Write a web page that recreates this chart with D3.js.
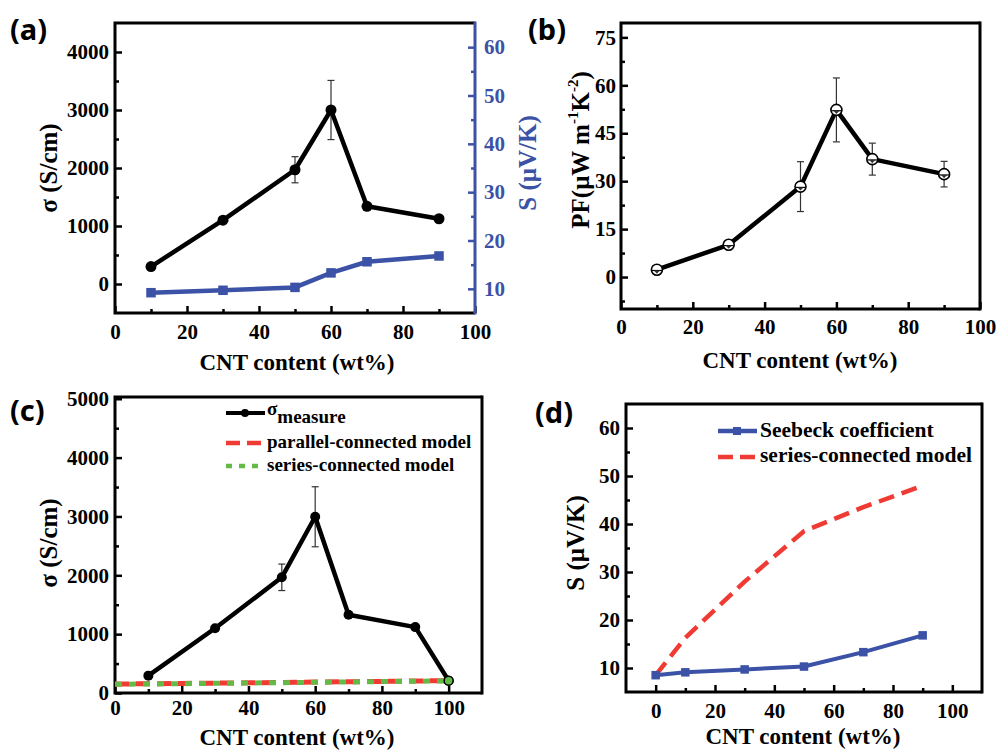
<!DOCTYPE html>
<html>
<head>
<meta charset="utf-8">
<script src="https://cdn.jsdelivr.net/npm/d3@7"></script>
<style>
body { margin: 0; background: #fff; }
</style>
</head>
<body>
<svg id="chart" width="996" height="750"></svg>
<script>
// (a) conductivity + Seebeck vs CNT content
const cntA = [10, 30, 50, 60, 70, 90];
const sigmaA = [300, 1100, 1970, 3000, 1340, 1125];
const sigmaErrA = [0, 0, 225, 510, 0, 0];
const seebeckA = [9.2, 9.7, 10.3, 13.3, 15.6, 16.8];

// (b) power factor
const cntB = [10, 30, 50, 60, 70, 90];
const pfB = [2.3, 10.1, 28.3, 52.3, 36.9, 32.2];
const pfErrB = [0.4, 0.6, 7.8, 10.0, 5.0, 4.0];

// (c) measured conductivity vs models
const cntC = [10, 30, 50, 60, 70, 90, 100];
const sigmaC = [295, 1100, 1966, 2995, 1330, 1120, 210];
const sigmaErrC = [0, 0, 225, 510, 0, 0, 0];
const modelX = [0, 20, 40, 60, 80, 100];
const parallelC = [152, 162, 173, 185, 197, 210];
const seriesC = [148, 158, 170, 182, 194, 206];

// (d) Seebeck vs series model
const cntD = [0, 10, 30, 50, 70, 90];
const seebeckD = [8.5, 9.1, 9.7, 10.3, 13.3, 16.8];
const seriesD = [8.5, 16.3, 28.0, 38.5, 43.5, 48.0];

// tick values
const xMajor = [0, 20, 40, 60, 80, 100];
const xMinor = [10, 30, 50, 70, 90];
const sigmaMajorA = [0, 1000, 2000, 3000, 4000];
const sigmaMinorA = [500, 1500, 2500, 3500];
const sMajor = [10, 20, 30, 40, 50, 60];
const sMinor = [15, 25, 35, 45, 55];
const pfMajor = [0, 15, 30, 45, 60, 75];
const pfMinor = [-7.5, 7.5, 22.5, 37.5, 52.5, 67.5];
const sigmaMajorC = [0, 1000, 2000, 3000, 4000, 5000];
const sigmaMinorC = [500, 1500, 2500, 3500, 4500];

const blue = "#3b52a6", red = "#ef3b33", green = "#62bb47";
const serif = "'Liberation Serif', 'Times New Roman', 'DejaVu Serif', serif";
const sans = "'Noto Sans', 'Open Sans', 'DejaVu Sans', sans-serif";

const svg = d3.select("#chart");

function addAxis(axisFn, scale, pos, major, minor, color, pad) {
    let g = svg.append("g").attr("transform", pos);
    g.call(axisFn(scale).tickValues(major).tickSize(-7).tickPadding(pad).tickFormat(d3.format("d")));
    g.select(".domain").remove();
    g.attr("font-size", 21).attr("font-family", serif).attr("font-weight", "bold");
    g.selectAll("line").attr("stroke", color).attr("stroke-width", 2.5);
    g.selectAll("text").attr("fill", color);
    let m = svg.append("g").attr("transform", pos);
    m.call(axisFn(scale).tickValues(minor).tickSize(-4).tickFormat(""));
    m.select(".domain").remove();
    m.selectAll("line").attr("stroke", color).attr("stroke-width", 2.5);
}

function frame(x, y, rightColor) {
    let [l, r] = x.range(), [b, t] = y.range();
    let f = svg.append("g").attr("stroke-width", 3).attr("fill", "none");
    f.append("path").attr("stroke", "#000")
        .attr("d", `M${r},${t}H${l}V${b}H${r}`);
    f.append("line").attr("stroke", rightColor || "#000")
        .attr("x1", r).attr("x2", r).attr("y1", t - 1.5).attr("y2", b + 1.5);
}

function errBars(x, y, xs, ys, errs) {
    let g = svg.append("g").attr("stroke", "#333").attr("stroke-width", 1.2);
    xs.forEach((d, i) => {
        if (!errs[i]) return;
        let cx = x(d), y1 = y(ys[i] - errs[i]), y2 = y(ys[i] + errs[i]);
        g.append("line").attr("x1", cx).attr("x2", cx).attr("y1", y1).attr("y2", y2);
        g.append("line").attr("x1", cx - 3.5).attr("x2", cx + 3.5).attr("y1", y1).attr("y2", y1);
        g.append("line").attr("x1", cx - 3.5).attr("x2", cx + 3.5).attr("y1", y2).attr("y2", y2);
    });
}

function polyline(x, y, xs, ys, color, width, dash) {
    let line = d3.line().x(d => x(d[0])).y(d => y(d[1]));
    let p = svg.append("path")
        .datum(xs.map((d, i) => [d, ys[i]]))
        .attr("fill", "none")
        .attr("stroke", color)
        .attr("stroke-width", width)
        .attr("stroke-linejoin", "round")
        .attr("d", line);
    if (dash) p.attr("stroke-dasharray", dash);
    return p;
}

function circles(x, y, xs, ys, r, fill) {
    svg.append("g").selectAll("circle").data(xs).join("circle")
        .attr("cx", d => x(d)).attr("cy", (d, i) => y(ys[i]))
        .attr("r", r).attr("fill", fill || "#000");
}

function squares(x, y, xs, ys, s, color) {
    svg.append("g").selectAll("rect").data(xs).join("rect")
        .attr("x", d => x(d) - s / 2).attr("y", (d, i) => y(ys[i]) - s / 2)
        .attr("width", s).attr("height", s).attr("fill", color);
}

function text(str, x, y, opts = {}) {
    let t = svg.append("text")
        .attr("font-size", opts.size || 23)
        .attr("font-family", opts.family || serif)
        .attr("font-weight", "bold")
        .attr("fill", opts.color || "#000")
        .attr("text-anchor", opts.anchor || "middle");
    if (opts.rotate) {
        t.attr("transform", `translate(${x},${y}) rotate(-90)`).attr("dy", "0.35em");
    } else {
        t.attr("x", x).attr("y", y);
    }
    t.text(str);
    return t;
}

// ---------- panel (a) ----------
{
    let x = d3.scaleLinear().domain([0, 100]).range([115, 475]);
    let y = d3.scaleLinear().domain([-500, 4500]).range([313, 23]);
    let y2 = d3.scaleLinear().domain([5, 65]).range([313, 23]);
    addAxis(d3.axisBottom, x, "translate(0,313)", xMajor, xMinor, "#000", 11);
    addAxis(d3.axisLeft, y, "translate(115,0)", sigmaMajorA, sigmaMinorA, "#000", 6);
    addAxis(d3.axisRight, y2, "translate(475,0)", sMajor, sMinor, blue, 9);
    frame(x, y, blue);
    errBars(x, y, cntA, sigmaA, sigmaErrA);
    polyline(x, y, cntA, sigmaA, "#000", 4.5);
    circles(x, y, cntA, sigmaA, 5.5);
    polyline(x, y2, cntA, seebeckA, blue, 4.5);
    squares(x, y2, cntA, seebeckA, 9.5, blue);
    text("(a)", 10, 40, { size: 29, anchor: "start", family: sans });
    text("σ (S/cm)", 48, 168, { rotate: true, size: 25 });
    text("S (μV/K)", 527, 163, { rotate: true, size: 25, color: blue });
    text("CNT content (wt%)", 297, 370);
}

// ---------- panel (b) ----------
{
    let x = d3.scaleLinear().domain([0, 100]).range([621, 980]);
    let y = d3.scaleLinear().domain([-10, 79.5]).range([309, 23]);
    addAxis(d3.axisBottom, x, "translate(0,309)", xMajor, xMinor, "#000", 10);
    addAxis(d3.axisLeft, y, "translate(621,0)", pfMajor, pfMinor, "#000", 5);
    frame(x, y);
    errBars(x, y, cntB, pfB, pfErrB);
    polyline(x, y, cntB, pfB, "#000", 4.5);
    let g = svg.append("g");
    cntB.forEach((d, i) => {
        let cx = x(d), cy = y(pfB[i]);
        g.append("circle").attr("cx", cx).attr("cy", cy).attr("r", 5.5)
            .attr("fill", "#fff").attr("stroke", "#000").attr("stroke-width", 1.6);
        g.append("line").attr("x1", cx - 5).attr("x2", cx + 5).attr("y1", cy + 0.8).attr("y2", cy + 0.8)
            .attr("stroke", "#000").attr("stroke-width", 1.2);
        g.append("path").attr("d", `M${cx - 3},${cy + 0.8}L${cx + 3},${cy + 0.8}L${cx},${cy + 4}Z`)
            .attr("fill", "#333");
    });
    text("(b)", 528, 40, { size: 29, anchor: "start", family: sans });
    let t = text("", 580, 150, { rotate: true, size: 25 });
    t.append("tspan").text("PF(μW m");
    t.append("tspan").attr("font-size", 15).attr("dy", "-0.7em").text("-1");
    t.append("tspan").attr("dy", "0.42em").text("K");
    t.append("tspan").attr("font-size", 15).attr("dy", "-0.7em").text("-2");
    t.append("tspan").attr("dy", "0.42em").text(")");
    text("CNT content (wt%)", 800, 368);
}

// ---------- panel (c) ----------
{
    let x = d3.scaleLinear().domain([0, 110]).range([115, 482]);
    let y = d3.scaleLinear().domain([0, 5030]).range([693, 397]);
    addAxis(d3.axisBottom, x, "translate(0,693)", xMajor, xMinor, "#000", 7);
    addAxis(d3.axisLeft, y, "translate(115,0)", sigmaMajorC, sigmaMinorC, "#000", 6);
    frame(x, y);
    errBars(x, y, cntC, sigmaC, sigmaErrC);
    polyline(x, y, cntC, sigmaC, "#000", 4.5);
    circles(x, y, cntC, sigmaC, 5);
    polyline(x, y, modelX, parallelC, red, 5, "14,7");
    polyline(x, y, modelX, seriesC, green, 5, "7,7").attr("stroke-dashoffset", -14);
    svg.append("circle").attr("cx", x(100)).attr("cy", y(210)).attr("r", 4.5)
        .attr("fill", green).attr("stroke", "#000").attr("stroke-width", 1.5);

    // legend
    let lg = svg.append("g");
    lg.append("line").attr("x1", 226).attr("x2", 265).attr("y1", 413).attr("y2", 413)
        .attr("stroke", "#000").attr("stroke-width", 4);
    lg.append("circle").attr("cx", 245).attr("cy", 413).attr("r", 4);
    lg.append("line").attr("x1", 226).attr("x2", 265).attr("y1", 443).attr("y2", 443)
        .attr("stroke", red).attr("stroke-width", 4.5).attr("stroke-dasharray", "14,7");
    lg.append("line").attr("x1", 226).attr("x2", 265).attr("y1", 466).attr("y2", 466)
        .attr("stroke", green).attr("stroke-width", 4.5).attr("stroke-dasharray", "6,7");
    let s = text("", 267, 415, { size: 19, anchor: "start" });
    s.append("tspan").text("σ");
    s.append("tspan").attr("dy", 8).text("measure");
    text("parallel-connected model", 267, 448, { size: 19, anchor: "start" });
    text("series-connected model", 267, 471, { size: 19, anchor: "start" });

    text("(c)", 10, 421, { size: 29, anchor: "start", family: sans });
    text("σ (S/cm)", 48, 543, { rotate: true, size: 25 });
    text("CNT content (wt%)", 297, 745);
}

// ---------- panel (d) ----------
{
    let x = d3.scaleLinear().domain([-10, 110]).range([626, 982]);
    let y = d3.scaleLinear().domain([5, 65]).range([692, 404]);
    addAxis(d3.axisBottom, x, "translate(0,692)", xMajor, xMinor, "#000", 11);
    addAxis(d3.axisLeft, y, "translate(626,0)", sMajor, sMinor, "#000", 6);
    frame(x, y);
    polyline(x, y, cntD, seriesD, red, 4.5, "16,8");
    polyline(x, y, cntD, seebeckD, blue, 4);
    squares(x, y, cntD, seebeckD, 8.5, blue);

    let lg = svg.append("g");
    lg.append("line").attr("x1", 718).attr("x2", 757).attr("y1", 431).attr("y2", 431)
        .attr("stroke", blue).attr("stroke-width", 4.5);
    lg.append("rect").attr("x", 733).attr("y", 427).attr("width", 8).attr("height", 8).attr("fill", blue);
    lg.append("line").attr("x1", 718).attr("x2", 757).attr("y1", 457).attr("y2", 457)
        .attr("stroke", red).attr("stroke-width", 4.5).attr("stroke-dasharray", "15,7");
    text("Seebeck coefficient", 760, 437, { size: 21.5, anchor: "start" });
    text("series-connected model", 760, 462, { size: 21.5, anchor: "start" });

    text("(d)", 535, 423, { size: 29, anchor: "start", family: sans });
    text("S (μV/K)", 575, 543, { rotate: true, size: 25 });
    text("CNT content (wt%)", 803, 744);
}
</script>
</body>
</html>
